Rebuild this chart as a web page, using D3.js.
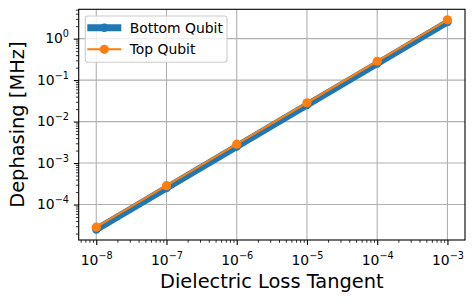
<!DOCTYPE html>
<html><head><meta charset="utf-8">
<script src="https://cdn.jsdelivr.net/npm/d3@7"></script>
<style>
html,body{margin:0;padding:0;background:#fff;}
svg{display:block;font-family:"DejaVu Sans",sans-serif;}
</style></head>
<body>
<svg id="chart" width="475" height="303"></svg>
<script>
const lossTangent = [1e-8, 1e-7, 1e-6, 1e-5, 1e-4, 1e-3];
const bottomQubit = [2.5e-5, 2.5e-4, 2.5e-3, 2.5e-2, 0.25, 2.5];
const topQubit = [2.85e-5, 2.85e-4, 2.85e-3, 2.85e-2, 0.285, 2.85];
const xTickExps = [-8, -7, -6, -5, -4, -3];
const yTickExps = [-4, -3, -2, -1, 0];
const seriesNames = ["Bottom Qubit", "Top Qubit"];
const xLabel = "Dielectric Loss Tangent";
const yLabel = "Dephasing [MHz]";

const m = {left: 78.7, right: 465, top: 9.3, bottom: 240};
const svg = d3.select("#chart");

function logDomain(vals) {
  const lo = Math.log10(d3.min(vals)), hi = Math.log10(d3.max(vals));
  const pad = (hi - lo) * 0.05;
  return [Math.pow(10, lo - pad), Math.pow(10, hi + pad)];
}
const x = d3.scaleLog().domain(logDomain(lossTangent)).range([m.left, m.right]);
const y = d3.scaleLog().domain(logDomain(bottomQubit.concat(topQubit))).range([m.bottom, m.top]);

function minorTicks(scale) {
  const [a, b] = scale.domain();
  const out = [];
  for (let e = Math.floor(Math.log10(a)); e <= Math.ceil(Math.log10(b)); e++) {
    for (let k = 2; k <= 9; k++) {
      const v = k * Math.pow(10, e);
      if (v >= a && v <= b) out.push(v);
    }
  }
  return out;
}

// grid
const gGrid = svg.append("g");
xTickExps.forEach(e => {
  const px = x(Math.pow(10, e));
  gGrid.append("line").attr("x1", px).attr("x2", px).attr("y1", m.top).attr("y2", m.bottom)
    .attr("stroke", "#b0b0b0").attr("stroke-width", 1.1);
});
yTickExps.forEach(e => {
  const py = y(Math.pow(10, e));
  gGrid.append("line").attr("x1", m.left).attr("x2", m.right).attr("y1", py).attr("y2", py)
    .attr("stroke", "#b0b0b0").attr("stroke-width", 1.1);
});

// axes
const xAxisMajor = d3.axisBottom(x).tickValues(xTickExps.map(e => Math.pow(10, e))).tickSize(4.9).tickFormat("");
const xAxisMinor = d3.axisBottom(x).tickValues(minorTicks(x)).tickSize(2.8).tickFormat("");
const yAxisMajor = d3.axisLeft(y).tickValues(yTickExps.map(e => Math.pow(10, e))).tickSize(4.9).tickFormat("");
const yAxisMinor = d3.axisLeft(y).tickValues(minorTicks(y)).tickSize(2.8).tickFormat("");

function styleAxis(g, w) {
  g.select(".domain").remove();
  g.selectAll(".tick line").attr("stroke", "#000").attr("stroke-width", w);
}
svg.append("g").attr("transform", `translate(0,${m.bottom})`).call(xAxisMajor).call(g => styleAxis(g, 1.1));
svg.append("g").attr("transform", `translate(0,${m.bottom})`).call(xAxisMinor).call(g => styleAxis(g, 0.8));
svg.append("g").attr("transform", `translate(${m.left},0)`).call(yAxisMajor).call(g => styleAxis(g, 1.1));
svg.append("g").attr("transform", `translate(${m.left},0)`).call(yAxisMinor).call(g => styleAxis(g, 0.8));

// tick labels (10^e)
function powLabel(t, e) {
  t.append("tspan").text("10");
  t.append("tspan").attr("dy", -6).attr("font-size", 9.7).text(e < 0 ? "\u2212" + (-e) : String(e));
}
xTickExps.forEach(e => {
  const t = svg.append("text").attr("x", x(Math.pow(10, e)) + 0.5).attr("y", 265)
    .attr("text-anchor", "middle").attr("font-size", 13.9).attr("fill", "#000");
  powLabel(t, e);
});
yTickExps.forEach(e => {
  const t = svg.append("text").attr("x", 69).attr("y", y(Math.pow(10, e)) + 4.5)
    .attr("text-anchor", "end").attr("font-size", 13.9).attr("fill", "#000");
  powLabel(t, e);
});

// frame
svg.append("rect").attr("x", m.left).attr("y", m.top).attr("width", m.right - m.left).attr("height", m.bottom - m.top)
  .attr("fill", "none").attr("stroke", "#000").attr("stroke-width", 1.1);

// series
const series = [
  {name: seriesNames[0], vals: bottomQubit, color: "#1f77b4", lw: 6.9, r: 4.2},
  {name: seriesNames[1], vals: topQubit, color: "#ff7f0e", lw: 2.1, r: 4.6}
];
const line = d3.line().x(d => x(d[0])).y(d => y(d[1]));
series.forEach(s => {
  const pts = lossTangent.map((v, i) => [v, s.vals[i]]);
  svg.append("path").attr("d", line(pts)).attr("fill", "none").attr("stroke", s.color)
    .attr("stroke-width", s.lw).attr("stroke-linejoin", "round").attr("stroke-linecap", "butt");
  svg.selectAll(null).data(pts).enter().append("circle")
    .attr("cx", d => x(d[0])).attr("cy", d => y(d[1])).attr("r", s.r).attr("fill", s.color);
});

// axis labels
svg.append("text").attr("x", (m.left + m.right) / 2).attr("y", 288).attr("text-anchor", "middle")
  .attr("font-size", 19.4).attr("fill", "#000").text(xLabel);
svg.append("text").attr("transform", `translate(24,${(m.top + m.bottom) / 2}) rotate(-90)`)
  .attr("text-anchor", "middle").attr("font-size", 19.4).attr("fill", "#000").text(yLabel);

// legend
const lg = svg.append("g");
lg.append("rect").attr("x", 85.3).attr("y", 16).attr("width", 141.7).attr("height", 46.3).attr("rx", 2.8)
  .attr("fill", "#fff").attr("fill-opacity", 0.8).attr("stroke", "#cccccc").attr("stroke-width", 1.1);
series.forEach((s, i) => {
  const yy = 27.7 + i * 21.6;
  lg.append("line").attr("x1", 87.3).attr("x2", 121.3).attr("y1", yy).attr("y2", yy)
    .attr("stroke", s.color).attr("stroke-width", s.lw);
  lg.append("circle").attr("cx", 104.3).attr("cy", yy).attr("r", s.r).attr("fill", s.color);
  lg.append("text").attr("x", 129.7).attr("y", yy + 5).attr("font-size", 13.9).attr("fill", "#000").text(s.name);
});
</script>
</body></html>
